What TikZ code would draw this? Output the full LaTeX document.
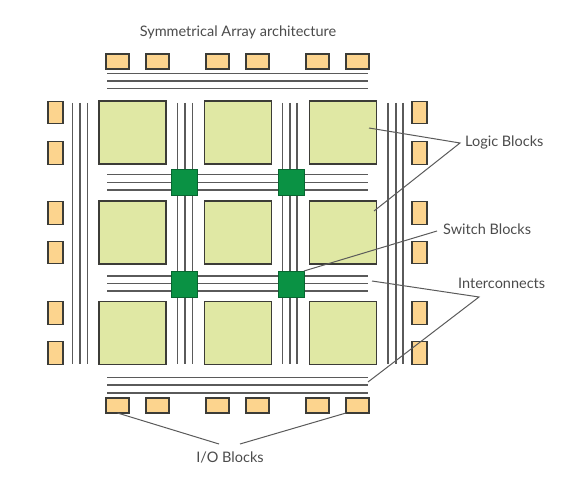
\documentclass[tikz,border=0pt]{standalone}
\usepackage{fontspec}
\setmainfont{Lato}
\usepackage{tikz}
\definecolor{logicGreen}{RGB}{224, 232, 164}
\definecolor{switchGreen}{RGB}{10, 146, 68}
\definecolor{ioOrange}{RGB}{252, 212, 142}
\definecolor{wireGray}{RGB}{90, 90, 90}
\definecolor{edgeGray}{RGB}{60, 60, 55}
\definecolor{textGray}{RGB}{75, 75, 75}
\tikzset{
  logicblock/.style={draw=edgeGray, line width=1.1pt, fill=logicGreen, minimum width=67pt, minimum height=63pt, inner sep=0pt, outer sep=0pt},
  switchblock/.style={draw=switchGreen!70!black, line width=0.8pt, fill=switchGreen, minimum width=26pt, minimum height=26pt, inner sep=0pt, outer sep=0pt},
  iowide/.style={draw=edgeGray, line width=1.3pt, fill=ioOrange, minimum width=23pt, minimum height=15pt, inner sep=0pt, outer sep=0pt},
  iotall/.style={draw=edgeGray, line width=1.3pt, fill=ioOrange, minimum width=15pt, minimum height=22.5pt, inner sep=0pt, outer sep=0pt},
  wire/.style={draw=wireGray, line width=1.4pt},
  leader/.style={draw=wireGray, line width=1pt},
  caption/.style={text=textGray, font=\fontsize{14.5}{17}\selectfont, inner sep=0pt}
}

\begin{document}
\begin{tikzpicture}[x=1pt, y=-1pt]
        \useasboundingbox (0,0) rectangle (566,489);
        % horizontal wires
        \foreach \y in {73.5,81,88.5, 174.7,182.3,190, 276,283.7,291, 377.7,385,393}
          \draw[wire] (107,\y) -- (367.5,\y);
        % vertical wires
        \foreach \x in {72.5,80,87.5, 177.5,185,192.5, 282.7,290,297, 388,396,403}
          \draw[wire] (\x,103) -- (\x,364);
        % logic blocks
        \foreach \col/\x in {1/132.5,2/238,3/343}
          \foreach \row/\y in {1/132.5,2/232.5,3/333}
            \node[logicblock] (logic\col\row) at (\x,\y) {};
        % switch blocks
        \foreach \col/\x in {1/184.7,2/291}
          \foreach \row/\y in {1/182,2/284}
            \node[switchblock] (switch\col\row) at (\x,\y) {};
        % io blocks
        \foreach \i/\x in {1/117.5,2/157.5,3/217.5,4/257.5,5/317.5,6/357.5} {
          \node[iowide] (iotop\i) at (\x,61.5) {};
          \node[iowide] (iobot\i) at (\x,405.5) {};
        }
        \foreach \i/\y in {1/112.5,2/153,3/213,4/252.5,5/313,6/353} {
          \node[iotall] (ioleft\i) at (55.5,\y) {};
          \node[iotall] (ioright\i) at (419.5,\y) {};
        }
        % labels
        \node[caption] (title) at (238,32) {Symmetrical Array architecture};
        \node[caption, anchor=west] (logiclabel) at (465,142) {Logic Blocks};
        \node[caption, anchor=west] (switchlabel) at (443,229) {Switch Blocks};
        \node[caption, anchor=west] (wirelabel) at (458,283) {Interconnects};
        \node[caption] (iolabel) at (230,457) {I/O Blocks};
        % leader lines
        \coordinate (logictip) at (460,143);
        \coordinate (wiretip) at (479,297);
        \coordinate (iotipa) at (219,444);
        \coordinate (iotipb) at (240,444);
        \coordinate (logicenda) at (369,128);
        \coordinate (logicendb) at (374,211);
        \coordinate (switchtip) at (437,231);
        \coordinate (wireenda) at (372,281);
        \coordinate (wireendb) at (368,382);
        \draw[leader] (logicenda) -- (logictip) -- (logicendb);
        \draw[leader] (switch22.north east) -- (switchtip);
        \draw[leader] (wireenda) -- (wiretip) -- (wireendb);
        \draw[leader] (iobot1.south) -- (iotipa);
        \draw[leader] (iobot6.south west) -- (iotipb);
      \end{tikzpicture}
\end{document}
